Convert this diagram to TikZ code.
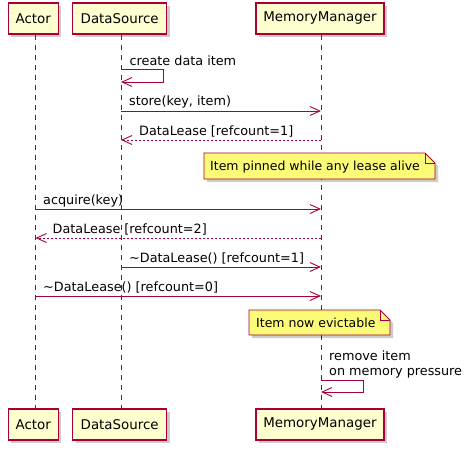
\documentclass[tikz,border=0pt]{standalone}
\usepackage{fontspec}
\setmainfont{DejaVu Sans}
\usetikzlibrary{arrows.meta,shadows}
\definecolor{pu}{HTML}{A80036}
\definecolor{pfill}{HTML}{FEFECE}
\definecolor{nfill}{HTML}{FBFB77}
\begin{document}
\begin{tikzpicture}[x=1pt,y=-1pt,font=\fontsize{12.8}{15}\selectfont,
  part/.style={draw=pu,fill=pfill,line width=1.1pt,minimum height=31pt,inner sep=0pt,
    font=\fontsize{13.4}{15}\selectfont,
    drop shadow={shadow xshift=3pt,shadow yshift=-3pt,fill=black,opacity=0.2}},
  life/.style={draw=pu,line width=0.8pt,dash pattern=on 5pt off 5pt},
  msg/.style={draw=pu,line width=0.9pt,-{Straight Barb[length=10pt,width=9pt,line width=0.9pt]}},
  ret/.style={msg,dash pattern=on 2pt off 2pt},
  lbl/.style={anchor=base west,inner sep=0pt},
  notetext/.style={lbl,font=\fontsize{12.5}{15}\selectfont},
  notebox/.style={draw=pu,fill=nfill,line width=0.8pt},
  noteshadow/.style={fill=black,opacity=0.2}]
\useasboundingbox (0,0) rectangle (473,450);
% participants
\node[part,minimum width=50pt] (a1) at (33.3,18.5) {Actor};
\node[part,minimum width=94pt] (d1) at (119.7,18.5) {DataSource};
\node[part,minimum width=128pt] (m1) at (320,18.5) {MemoryManager};
\node[part,minimum width=50pt] (a2) at (33.3,424.5) {Actor};
\node[part,minimum width=94pt] (d2) at (119.7,424.5) {DataSource};
\node[part,minimum width=128pt] (m2) at (320,424.5) {MemoryManager};
% lifelines
\coordinate (A) at (35.5,0);
\coordinate (D) at (121,0);
\coordinate (M) at (321,0);
\draw[life] (A |- a1.south) -- (A |- a2.north);
\draw[life] (D |- d1.south) -- (D |- d2.north);
\draw[life] (M |- m1.south) -- (M |- m2.north);
% create data item
\node[lbl] (t1) at (129.5,65) {create data item};
\draw[msg] (D |- 0,69) -- (163,69) -- (163,82) -- (D |- 0,82);
% store
\node[lbl] (t2) at (129,105.5) {store(key, item)};
\draw[msg] (D |- 0,111) -- (M |- 0,111);
% DataLease 1
\node[lbl] (t3) at (139,135) {DataLease [refcount=1]};
\draw[ret] (M |- 0,140) -- (D |- 0,140);
% note 1
\fill[noteshadow] (207,156) -- (428,156) -- (438,166) -- (438,182) -- (207,182) -- cycle;
\draw[notebox] (204,153) -- (425,153) -- (435,163) -- (435,179) -- (204,179) -- cycle;
\draw[pu,line width=0.8pt] (425,153) -- (425,163) -- (435,163);
\node[notetext] (n1) at (210,170.5) {Item pinned while any lease alive};
% acquire
\node[lbl] (t4) at (43,204) {acquire(key)};
\draw[msg] (A |- 0,209) -- (M |- 0,209);
% DataLease 2
\node[lbl] (t5) at (52.5,233.5) {DataLease [refcount=2]};
\draw[ret] (M |- 0,238) -- (A |- 0,238);
% ~DataLease 1
\node[lbl] (t6) at (129,262) {\char"007E DataLease() [refcount=1]};
\draw[msg] (D |- 0,267) -- (M |- 0,267);
% ~DataLease 0
\node[lbl] (t7) at (43,291) {\char"007E DataLease() [refcount=0]};
\draw[msg] (A |- 0,296) -- (M |- 0,296);
% note 2
\fill[noteshadow] (252,313) -- (383,313) -- (393,323) -- (393,338) -- (252,338) -- cycle;
\draw[notebox] (249,310) -- (380,310) -- (390,320) -- (390,335) -- (249,335) -- cycle;
\draw[pu,line width=0.8pt] (380,310) -- (380,320) -- (390,320);
\node[notetext] (n2) at (256,327) {Item now evictable};
% remove item
\node[lbl] (t8) at (329,360.5) {remove item};
\node[lbl] (t9) at (329,375) {on memory pressure};
\draw[msg] (M |- 0,380) -- (363,380) -- (363,392) -- (M |- 0,392);
\end{tikzpicture}
\end{document}
